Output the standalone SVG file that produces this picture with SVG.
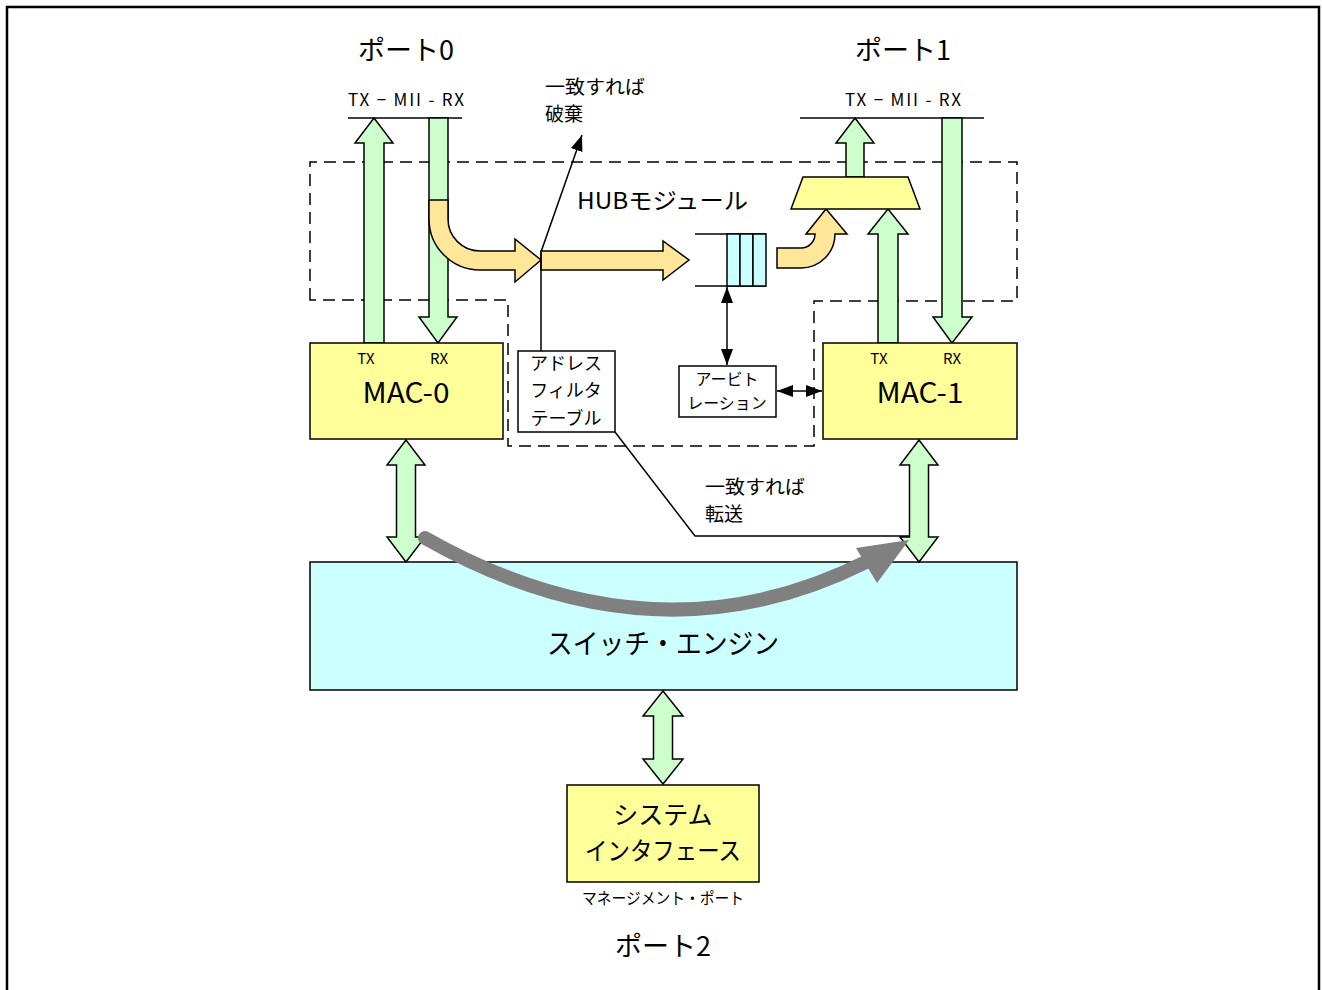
<svg xmlns="http://www.w3.org/2000/svg" width="1322" height="990" viewBox="0 0 1322 990">
<defs>
<style>
.t{font-family:"Noto Sans CJK JP","Noto Sans",sans-serif;fill:#000;text-anchor:middle}
.s{text-anchor:start}
.g{fill:#CCFFCC;stroke:#000;stroke-width:1.5}
.o{fill:#FFE699;stroke:#000;stroke-width:1.5}
.y{fill:#FFFF99;stroke:#000;stroke-width:1.5}
.c{fill:#CCFFFF;stroke:#000;stroke-width:1.5}
.w{fill:#FFF;stroke:#000;stroke-width:1.5}
.ln{fill:none;stroke:#000;stroke-width:1.5}
.dash{fill:none;stroke:#000;stroke-width:1.5;stroke-dasharray:12 7}
</style>
<marker id="ah2" viewBox="0 0 16 12" refX="16" refY="6" markerWidth="16" markerHeight="12" markerUnits="userSpaceOnUse" orient="auto-start-reverse">
<path d="M0,0 L16,6 L0,12 z" fill="#000"/>
</marker>
</defs>
<rect width="1322" height="990" fill="#FFF"/>
<path d="M7,992 L7,7 L1319,7 L1319,992" fill="none" stroke="#000" stroke-width="2.5"/>

<g id="hub-boundary">
<path class="dash" d="M310,300 L310,162 L1017,162 L1017,301 L814,301 L814,446 L508,446 L508,300 Z"/>
<text class="t s" x="577" y="209" font-size="23" textLength="171" lengthAdjust="spacingAndGlyphs">HUBモジュール</text>
</g>

<g id="labels-top">
<text class="t" x="406" y="60" font-size="27">ポート0</text>
<text class="t" x="903" y="60" font-size="27">ポート1</text>
<text class="t" x="406" y="106" font-size="17" textLength="116" lengthAdjust="spacing">TX − MII - RX</text>
<text class="t" x="903" y="106" font-size="17" textLength="116" lengthAdjust="spacing">TX − MII - RX</text>
<line class="ln" x1="348" y1="118" x2="462" y2="118"/>
<line class="ln" x1="800" y1="118" x2="984" y2="118"/>
</g>

<g id="switch-engine">
<rect class="c" x="310" y="562" width="707" height="128"/>
<text class="t" x="663" y="654" font-size="28" textLength="232" lengthAdjust="spacingAndGlyphs">スイッチ・エンジン</text>
</g>

<g id="connectors">
<path class="g" d="M364,343 L364,143 L355,143 L374,118 L393,143 L384,143 L384,343 Z"/>
<path class="g" d="M429,118 L448,118 L448,317 L457,317 L438,343 L419,317 L429,317 Z"/>
<path class="o" d="M429,200 L429,219 A51,51 0 0 0 480,270 L515,270 L515,282 L541,260 L515,239 L515,251 L480,251 A32,32 0 0 1 448,219 L448,200 Z"/>
<path class="o" d="M541,251 L663,251 L663,241 L689,260 L663,280 L663,270 L541,270 Z"/>
<path class="o" d="M777,248 L801,248 A14,14 0 0 0 815,234 L806,234 L826,209 L847,234 L835,234 A34,34 0 0 1 801,268 L777,268 Z"/>
<path class="g" d="M846,177 L846,143 L836,143 L855,118 L874,143 L864,143 L864,177 Z"/>
<path class="g" d="M878,343 L878,234 L868,234 L888,209 L908,234 L898,234 L898,343 Z"/>
<path class="g" d="M942,118 L962,118 L962,317 L972,317 L952,343 L933,317 L942,317 Z"/>
<path class="g" d="M406,440 L425,465 L415.5,465 L415.5,537 L425,537 L406,562 L387,537 L396.5,537 L396.5,465 L387,465 Z"/>
<path class="g" d="M919,440 L938,465 L928.5,465 L928.5,537 L938,537 L919,562 L900,537 L909.5,537 L909.5,465 L900,465 Z"/>
<path class="g" d="M663,691 L683,716 L672.5,716 L672.5,759 L683,759 L663,784 L643,759 L653.5,759 L653.5,716 L643,716 Z"/>
<polyline class="ln" points="541,351 541,252 582,135" marker-end="url(#ah2)"/>
<polyline class="ln" points="615,432 695,536 909,536"/>
<line class="ln" x1="727" y1="287" x2="727" y2="365" marker-start="url(#ah2)" marker-end="url(#ah2)"/>
<line class="ln" x1="777" y1="391" x2="822" y2="391" marker-start="url(#ah2)" marker-end="url(#ah2)"/>
<path d="M425,538 Q654,668 866,562" fill="none" stroke="#808080" stroke-width="14" stroke-linecap="round"/>
<path d="M856,548 L909,540 L877,583 Z" fill="#808080"/>
</g>

<g id="mux">
<path class="y" d="M803,177 L908,177 L920,209 L791,209 Z"/>
</g>

<g id="queue">
<line class="ln" x1="695" y1="234" x2="766" y2="234"/>
<line class="ln" x1="695" y1="286" x2="766" y2="286"/>
<rect class="c" x="727" y="234" width="13" height="52"/>
<rect class="c" x="740" y="234" width="13" height="52"/>
<rect class="c" x="753" y="234" width="13" height="52"/>
</g>

<g id="mac0">
<rect class="y" x="310" y="343" width="193" height="96"/>
<text class="t" x="366" y="364" font-size="15">TX</text>
<text class="t" x="439" y="364" font-size="15">RX</text>
<text class="t" x="406" y="403" font-size="28" textLength="87" lengthAdjust="spacingAndGlyphs">MAC-0</text>
</g>

<g id="mac1">
<rect class="y" x="823" y="343" width="194" height="96"/>
<text class="t" x="879" y="364" font-size="15">TX</text>
<text class="t" x="952" y="364" font-size="15">RX</text>
<text class="t" x="920" y="403" font-size="28" textLength="87" lengthAdjust="spacingAndGlyphs">MAC-1</text>
</g>

<g id="addr-filter">
<rect class="w" x="518" y="351" width="97" height="81"/>
<text class="t" x="566" y="370" font-size="18">アドレス</text>
<text class="t" x="566" y="397" font-size="18">フィルタ</text>
<text class="t" x="566" y="425" font-size="18">テーブル</text>
</g>

<g id="arbitration">
<rect class="w" x="679" y="366" width="97" height="51"/>
<text class="t" x="727" y="385" font-size="16">アービト</text>
<text class="t" x="727" y="409" font-size="16">レーション</text>
</g>

<g id="notes">
<text class="t s" x="545" y="94" font-size="19" textLength="100" lengthAdjust="spacingAndGlyphs">一致すれば</text>
<text class="t s" x="545" y="121" font-size="19">破棄</text>
<text class="t s" x="705" y="494" font-size="19" textLength="100" lengthAdjust="spacingAndGlyphs">一致すれば</text>
<text class="t s" x="705" y="521" font-size="19">転送</text>
</g>

<g id="system-if">
<rect class="y" x="567" y="785" width="192" height="97"/>
<text class="t" x="663" y="824" font-size="25">システム</text>
<text class="t" x="663" y="860" font-size="25" textLength="156" lengthAdjust="spacingAndGlyphs">インタフェース</text>
<text class="t" x="663" y="904" font-size="16" textLength="162" lengthAdjust="spacingAndGlyphs">マネージメント・ポート</text>
<text class="t" x="663" y="956" font-size="27">ポート2</text>
</g>
</svg>
